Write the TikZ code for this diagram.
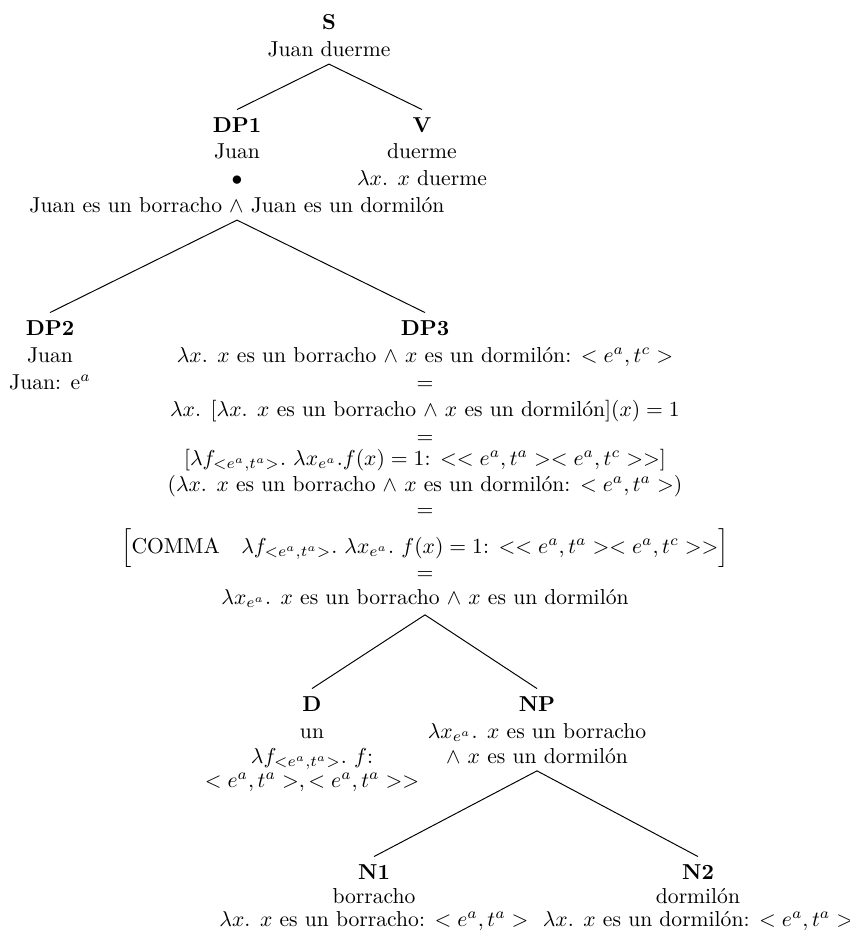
\documentclass[tikz,border=0pt]{standalone}
\usepackage{fontspec}
\usepackage{amsmath}
\begin{document}
\begin{tikzpicture}[x=0.463pt,y=-0.463pt,
  txt/.style={anchor=base,inner sep=3.33pt},
  lbl/.style={txt,font=\bfseries},
  edge/.style={draw,line width=0.45pt}]
\useasboundingbox (0,0) rectangle (850,936);
% S
\node[lbl] (s) at (329,29) {S};
\node[txt] (sjd) at (329,56) {Juan duerme};
% DP1
\node[lbl] (dp1) at (237,132) {DP1};
\node[txt] (dp1a) at (237,158) {Juan};
\node[txt] (dp1b) at (237,185) {$\bullet$};
\node[txt] (dp1c) at (237,212) {Juan es un borracho $\wedge$ Juan es un dormilón};
% V
\node[lbl] (v) at (422,132) {V};
\node[txt] (va) at (422,158) {duerme};
\node[txt] (vb) at (422,185) {$\lambda x$. $x$ duerme};
% DP2
\node[lbl] (dp2) at (50,335) {DP2};
\node[txt] (dp2a) at (50,362) {Juan};
\node[txt] (dp2b) at (50,389) {Juan: e$^a$};
% DP3
\node[lbl] (dp3) at (425,335) {DP3};
\node[txt] (dp3a) at (425,362) {$\lambda x$. $x$ es un borracho $\wedge$ $x$ es un dormilón: $< e^a, t^c >$};
\node[txt] (dp3b) at (425,389) {$=$};
\node[txt] (dp3c) at (425,416) {$\lambda x$. $[\lambda x$. $x$ es un borracho $\wedge$ $x$ es un dormilón$](x) = 1$};
\node[txt] (dp3d) at (425,443) {$=$};
\node[txt] (dp3e) at (425,465) {$[\lambda f_{<e^a,t^a>}.\ \lambda x_{e^a}.f(x) = 1$: $<< e^a, t^a >< e^a, t^c >>]$};
\node[txt] (dp3f) at (425,491) {($\lambda x$. $x$ es un borracho $\wedge$ $x$ es un dormilón: $< e^a, t^a >$)};
\node[txt] (dp3g) at (425,516) {$=$};
\node[txt] (dp3h) at (425,553) {$\Bigl[$COMMA\quad$\lambda f_{<e^a,t^a>}.\ \lambda x_{e^a}.\ f(x) = 1$: $<< e^a, t^a >< e^a, t^c >>\Bigr]$};
\node[txt] (dp3i) at (425,579) {$=$};
\node[txt] (dp3j) at (425,604) {$\lambda x_{e^a}$. $x$ es un borracho $\wedge$ $x$ es un dormilón};
% D
\node[lbl] (d) at (312,711) {D};
\node[txt] (da) at (312,738) {un};
\node[txt] (db) at (312,763) {$\lambda f_{<e^a,t^a>}.\ f$:};
\node[txt] (dc) at (312,787) {$< e^a, t^a >, < e^a, t^a >>$};
% NP
\node[lbl] (np) at (537,711) {NP};
\node[txt] (npa) at (537,738) {$\lambda x_{e^a}$. $x$ es un borracho};
\node[txt] (npb) at (537,763) {$\wedge$ $x$ es un dormilón};
% N1
\node[lbl] (n1) at (374,879) {N1};
\node[txt] (n1a) at (374,903) {borracho};
\node[txt] (n1b) at (374,926) {$\lambda x$. $x$ es un borracho: $< e^a, t^a >$};
% N2
\node[lbl] (n2) at (698,879) {N2};
\node[txt] (n2a) at (698,903) {dormilón};
\node[txt] (n2b) at (698,926) {$\lambda x$. $x$ es un dormilón: $< e^a, t^a >$};
% edges
\path[edge] (sjd.south) -- (dp1.north);
\path[edge] (sjd.south) -- (v.north);
\path[edge] (dp1c.south) -- (dp2.north);
\path[edge] (dp1c.south) -- (dp3.north);
\path[edge] (dp3j.south) -- (d.north);
\path[edge] (dp3j.south) -- (np.north);
\path[edge] (npb.south) -- (n1.north);
\path[edge] (npb.south) -- (n2.north);
\end{tikzpicture}
\end{document}
